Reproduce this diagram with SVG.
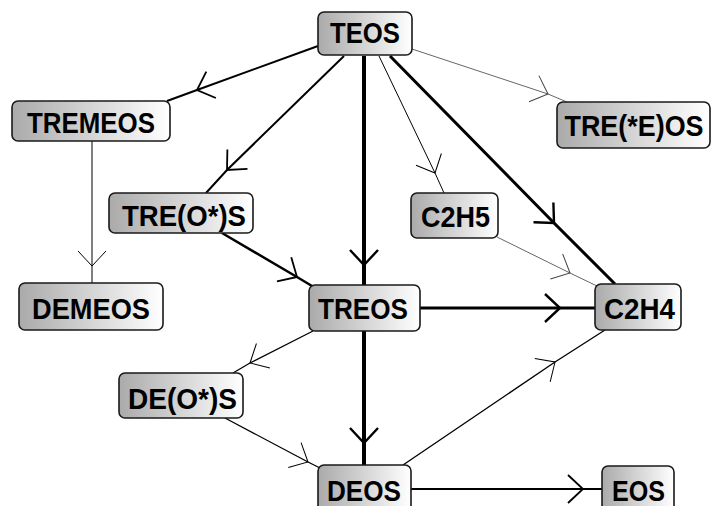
<svg xmlns="http://www.w3.org/2000/svg" width="713" height="506" viewBox="0 0 713 506">
<style>
.node rect{fill:url(#g);stroke:#1a1a1a;stroke-width:1.6}
.node text{font-family:'Liberation Sans',Arial,sans-serif;font-weight:bold;font-size:29px;fill:#000;text-anchor:middle}
.e{fill:none;stroke:#000;stroke-linecap:butt}
.thin{stroke-width:1;marker-mid:url(#mt)}
.gray{stroke:#666;stroke-width:1;marker-mid:url(#mg)}
.med{stroke-width:1.3;marker-mid:url(#mt)}
.w2{stroke-width:2;marker-mid:url(#mm)}
.w3{stroke-width:3;marker-mid:url(#mk)}
.w4{stroke-width:4;marker-mid:url(#mk)}
</style>
<defs>
<linearGradient id="g" x1="0" y1="0" x2="1" y2="0">
<stop offset="0" stop-color="#aaaaaa"/>
<stop offset="1" stop-color="#ffffff"/>
</linearGradient>
<marker id="mt" markerUnits="userSpaceOnUse" orient="auto" overflow="visible" markerWidth="1" markerHeight="1" refX="0" refY="0"><path d="M-15,-14 L0,0 L-15,14" fill="none" stroke="#000" stroke-width="1"/></marker>
<marker id="mg" markerUnits="userSpaceOnUse" orient="auto" overflow="visible" markerWidth="1" markerHeight="1" refX="0" refY="0"><path d="M-15,-14 L0,0 L-15,14" fill="none" stroke="#444" stroke-width="1"/></marker>
<marker id="mm" markerUnits="userSpaceOnUse" orient="auto" overflow="visible" markerWidth="1" markerHeight="1" refX="0" refY="0"><path d="M-15,-14 L0,0 L-15,14" fill="none" stroke="#000" stroke-width="1.8"/></marker>
<marker id="mk" markerUnits="userSpaceOnUse" orient="auto" overflow="visible" markerWidth="1" markerHeight="1" refX="0" refY="0"><path d="M-15,-14 L0,0 L-15,14" fill="none" stroke="#000" stroke-width="2.4"/></marker>
</defs>
<g id="connectors">
<path class="e w2" d="M318,46 L197,90 L167,101"/>
<path class="e w2" d="M344,56 L227,170 L206,193"/>
<path class="e w4" d="M364,56 L364,265 L364,285"/>
<path class="e thin" d="M379,56 L435,173 L444,193"/>
<path class="e w3" d="M390,56 L554,223 L615,284"/>
<path class="e gray" d="M412,49 L548,94 L567,102"/>
<path class="e thin" d="M92,140 L92,266 L92,283"/>
<path class="e w2" style="stroke-width:2.5" d="M222,233 L297,277 L312,286"/>
<path class="e w3" d="M420,308 L560,308 L595,308"/>
<path class="e gray" d="M497,237 L570,273 L597,286"/>
<path class="e med" d="M313,331 L250,363 L233,373"/>
<path class="e w4" d="M364,331 L364,443 L364,465"/>
<path class="e med" d="M225,418 L308,462 L320,468"/>
<path class="e med" d="M403,465 L555,362 L605,330"/>
<path class="e w2" d="M411,489 L583,489 L602,489"/>
</g>
<g id="TEOS" class="node"><rect x="318" y="12" width="94" height="43" rx="6"/><text x="365" y="43" textLength="70" lengthAdjust="spacingAndGlyphs">TEOS</text></g>
<g id="TREMEOS" class="node"><rect x="12" y="101" width="158" height="40" rx="6"/><text x="91" y="133" textLength="128" lengthAdjust="spacingAndGlyphs">TREMEOS</text></g>
<g id="TRE_E_OS" class="node"><rect x="557" y="102" width="153" height="46" rx="6"/><text x="634" y="136" textLength="139" lengthAdjust="spacingAndGlyphs">TRE(*E)OS</text></g>
<g id="TRE_O_S" class="node"><rect x="109" y="193" width="144" height="40" rx="6"/><text x="184" y="226" textLength="124" lengthAdjust="spacingAndGlyphs">TRE(O*)S</text></g>
<g id="C2H5" class="node"><rect x="411" y="193" width="87" height="45" rx="6"/><text x="455.5" y="227" textLength="69" lengthAdjust="spacingAndGlyphs">C2H5</text></g>
<g id="DEMEOS" class="node"><rect x="19" y="283" width="144" height="47" rx="6"/><text x="91" y="319" textLength="118" lengthAdjust="spacingAndGlyphs">DEMEOS</text></g>
<g id="TREOS" class="node"><rect x="309" y="285" width="111" height="46" rx="6"/><text x="363" y="319" textLength="90" lengthAdjust="spacingAndGlyphs">TREOS</text></g>
<g id="C2H4" class="node"><rect x="595" y="284" width="86" height="46" rx="6"/><text x="639.5" y="319" textLength="71" lengthAdjust="spacingAndGlyphs">C2H4</text></g>
<g id="DE_O_S" class="node"><rect x="119" y="373" width="124" height="45" rx="6"/><text x="182.5" y="409" textLength="109" lengthAdjust="spacingAndGlyphs">DE(O*)S</text></g>
<g id="DEOS" class="node"><rect x="318" y="465" width="93" height="50" rx="6"/><text x="364" y="501" textLength="74" lengthAdjust="spacingAndGlyphs">DEOS</text></g>
<g id="EOS" class="node"><rect x="602" y="466" width="72" height="50" rx="6"/><text x="638.5" y="501" textLength="53" lengthAdjust="spacingAndGlyphs">EOS</text></g>
</svg>
